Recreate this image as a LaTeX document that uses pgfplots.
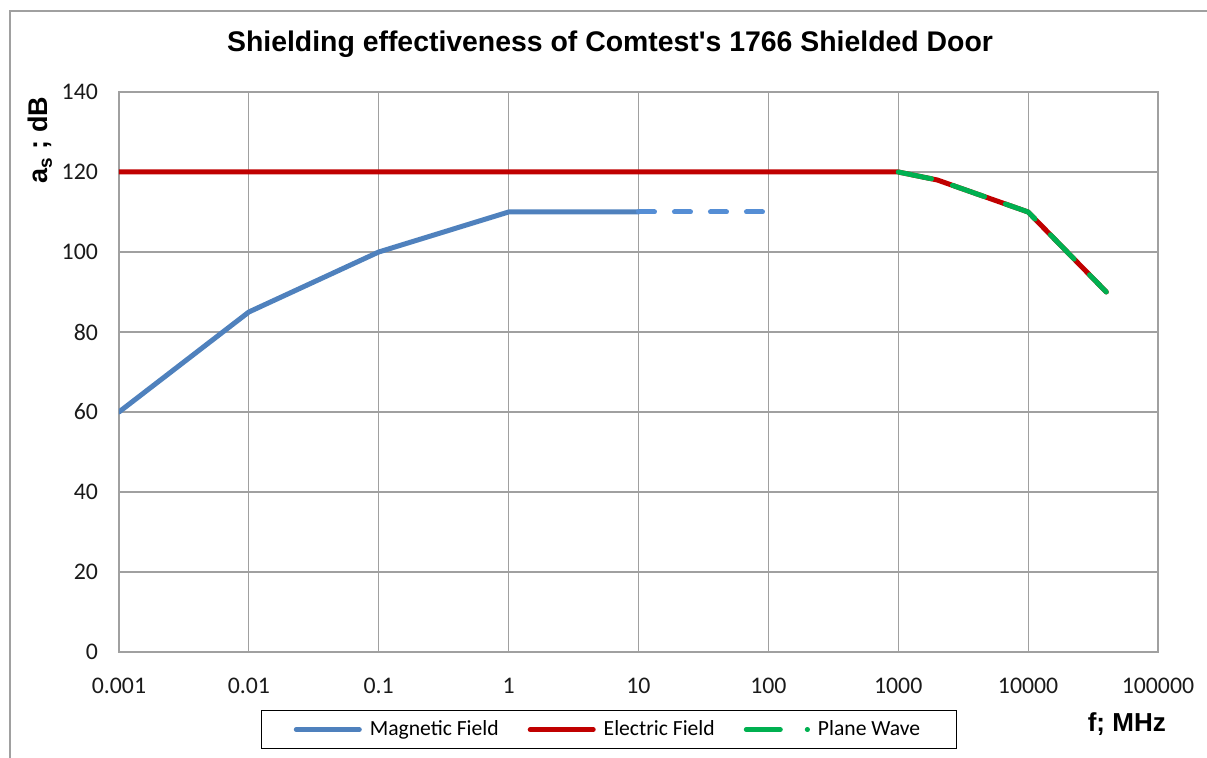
\documentclass[border=0pt]{standalone}
\usepackage{fontspec}
\setmainfont{Carlito}
\newfontfamily\arialfont{Liberation Sans}
\usepackage{pgfplots}
\pgfplotsset{compat=1.18}
\definecolor{magblue}{HTML}{4F81BD}
\definecolor{magblue2}{HTML}{558ED5}
\definecolor{elred}{HTML}{C00000}
\definecolor{pwgreen}{HTML}{00B050}
\definecolor{gridgray}{HTML}{A0A0A0}
\definecolor{ticktext}{HTML}{1A1A1A}
\begin{document}
\begin{tikzpicture}
\begin{semilogxaxis}[
  at={(0pt,0pt)}, anchor=south west,
  scale only axis,
  width=519.5pt, height=280pt,
  xmin=0.001, xmax=100000,
  ymin=0, ymax=140,
  ytick={0,20,...,140},
  xtick={0.001,0.01,0.1,1,10,100,1000,10000,100000},
  xticklabels={0.001,0.01,0.1,1,10,100,1000,10000,100000},
  log basis x=10,
  /pgf/number format/assume math mode=true,
  major tick length=0pt,
  tick style={draw=none},
  grid=major,
  major grid style={draw=gridgray, line width=0.6pt},
  axis line style={draw=gridgray, line width=0.6pt},
  ticklabel style={font=\fontsize{11.9}{13}\selectfont, text=ticktext},
  xticklabel style={yshift=-9.5pt},
  yticklabel style={xshift=-7pt},
  every axis title shift=0pt,
  title={Shielding effectiveness of Comtest's 1766 Shielded Door},
  title style={font=\arialfont\bfseries\fontsize{14.2}{16}\selectfont, at={(axis description cs:0.4726,1.0857)}, anchor=center},
  xlabel={f; MHz},
  xlabel style={font=\arialfont\bfseries\fontsize{13}{15}\selectfont, at={(axis description cs:0.970,-0.1286)}, anchor=center},
  ylabel={a\textsubscript{s} ; dB},
  ylabel style={font=\arialfont\bfseries\fontsize{13.5}{15}\selectfont, at={(axis description cs:-0.076,0.914)}, anchor=center},
  legend columns=3,
  legend style={at={(axis description cs:0.4716,-0.1036)}, anchor=north, draw=black, line width=0.6pt,
    font=\fontsize{10.8}{12}\selectfont, inner xsep=16pt, inner ysep=3pt,
    /tikz/every odd column/.append style={column sep=2pt},
    /tikz/every even column/.append style={column sep=12.5pt}},
  legend cell align=left,
]
\addplot[color=magblue, line width=2.5pt, line cap=round, line join=round,
  legend image code/.code={\draw[line width=2.5pt, line cap=round] (0pt,0pt)--(31.5pt,0pt);}]
  coordinates {(0.001,60) (0.01,85) (0.1,100) (1,110) (10,110)};
\addlegendentry{Magnetic Field}
\addplot[forget plot, color=magblue2, line width=2.5pt, line cap=round, dash pattern=on 8pt off 10pt]
  coordinates {(10,110) (100,110)};
\addplot[color=elred, line width=2.5pt, line cap=round, line join=round,
  legend image code/.code={\draw[line width=2.5pt, line cap=round] (0pt,0pt)--(31.5pt,0pt);}]
  coordinates {(0.001,120) (1000,120) (2000,118) (10000,110) (40000,90)};
\addlegendentry{Electric Field}
\addplot[color=pwgreen, line width=2.5pt, line cap=round, line join=round, dash pattern=on 17pt off 11pt,
  legend image code/.code={\draw[line width=2.5pt, line cap=round] (0pt,0pt)--(21pt,0pt); \draw[line width=2.5pt, line cap=round] (30.5pt,0pt)--(30.6pt,0pt);}]
  coordinates {(1000,120) (2000,118) (10000,110) (40000,90)};
\addlegendentry{Plane Wave}
\end{semilogxaxis}
\draw[gridgray, line width=1pt] (-54.5pt,-60pt) -- (-54.5pt,320.5pt) -- (560pt,320.5pt);
\pgfresetboundingbox
\path (-59.5pt,-53pt) rectangle (544pt,326pt);
\end{tikzpicture}
\end{document}
